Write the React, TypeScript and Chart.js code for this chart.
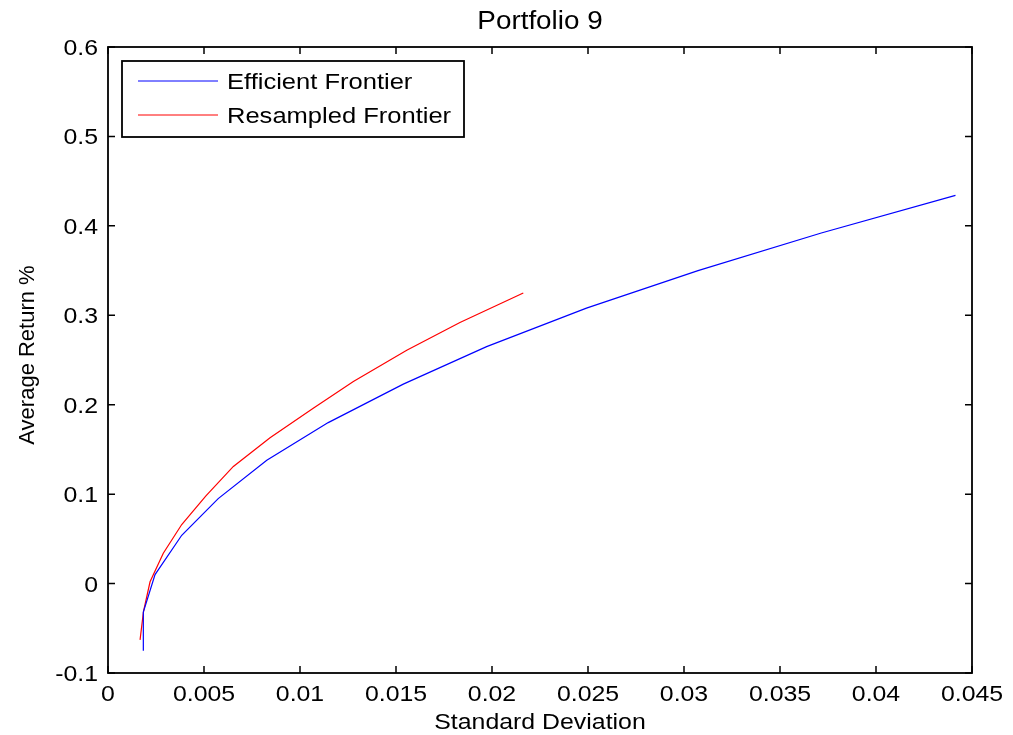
import React, { useEffect, useRef } from "react";
import { Chart, registerables } from "chart.js";

Chart.register(...registerables);

const efficientStd = [0.00184, 0.00184, 0.00245, 0.00384, 0.00574, 0.00827, 0.01147, 0.01538, 0.01972, 0.02492, 0.03073, 0.03715, 0.04414];
const efficientRet = [-0.075, -0.032, 0.010, 0.054, 0.095, 0.138, 0.180, 0.223, 0.265, 0.308, 0.350, 0.392, 0.434];
const resampledStd = [0.00167, 0.00185, 0.00219, 0.00288, 0.00384, 0.0051, 0.00653, 0.00844, 0.01069, 0.01278, 0.01556, 0.01833, 0.02163];
const resampledRet = [-0.063, -0.031, 0.002, 0.034, 0.066, 0.098, 0.131, 0.163, 0.196, 0.226, 0.261, 0.292, 0.325];

const seriesNames = ["Efficient Frontier", "Resampled Frontier"];
const seriesColors = ["#0000ff", "#ff0000"];
const titleText = "Portfolio 9";
const xTitle = "Standard Deviation";
const yTitle = "Average Return %";
const xTickValues = [0, 0.005, 0.01, 0.015, 0.02, 0.025, 0.03, 0.035, 0.04, 0.045];
const yTickValues = [-0.1, 0, 0.1, 0.2, 0.3, 0.4, 0.5, 0.6];

const FONT = '"Liberation Sans", Arial, sans-serif';
const SX = 1.13;

function drawText(
  ctx: CanvasRenderingContext2D,
  text: string,
  x: number,
  y: number,
  size: number,
  align: CanvasTextAlign,
  baseline: CanvasTextBaseline,
  sx = SX,
  rot = 0
) {
  ctx.save();
  ctx.translate(x, y);
  if (rot) ctx.rotate(rot);
  ctx.scale(sx, 1);
  ctx.font = `${size}px ${FONT}`;
  ctx.fillStyle = "#000";
  ctx.textAlign = align;
  ctx.textBaseline = baseline;
  ctx.fillText(text, 0, 0);
  ctx.restore();
}

const fmt = (v: number) => String(Number(v.toFixed(4)));

const matlabPlugin = {
  id: "matlabFrame",
  afterDraw(chart: any) {
    const ctx: CanvasRenderingContext2D = chart.ctx;
    const { left, right, top, bottom } = chart.chartArea;
    const xs = chart.scales.x;
    const ys = chart.scales.y;
    const tl = 7;

    ctx.save();
    ctx.strokeStyle = "#000";
    ctx.lineWidth = 1.8;
    ctx.strokeRect(left, top, right - left, bottom - top);

    ctx.lineWidth = 1.5;
    ctx.beginPath();
    for (const v of xTickValues) {
      const px = xs.getPixelForValue(v);
      ctx.moveTo(px, bottom);
      ctx.lineTo(px, bottom - tl);
      ctx.moveTo(px, top);
      ctx.lineTo(px, top + tl);
    }
    for (const v of yTickValues) {
      const py = ys.getPixelForValue(v);
      ctx.moveTo(left, py);
      ctx.lineTo(left + tl, py);
      ctx.moveTo(right, py);
      ctx.lineTo(right - tl, py);
    }
    ctx.stroke();
    ctx.restore();

    for (const v of xTickValues) {
      drawText(ctx, fmt(v), xs.getPixelForValue(v), bottom + 28, 22, "center", "alphabetic");
    }
    for (const v of yTickValues) {
      drawText(ctx, fmt(v), left - 10, ys.getPixelForValue(v) + 8, 22, "right", "alphabetic");
    }

    const cx = (left + right) / 2;
    drawText(ctx, titleText, cx, 29, 26, "center", "alphabetic", 1.07);
    drawText(ctx, xTitle, cx, 729, 22, "center", "alphabetic");
    drawText(ctx, yTitle, 34, (top + bottom) / 2 - 5, 22, "center", "alphabetic", 1, -Math.PI / 2);

    // legend
    const lx = 122, ly = 61, lw = 342, lh = 76;
    ctx.save();
    ctx.fillStyle = "#fff";
    ctx.fillRect(lx, ly, lw, lh);
    ctx.strokeStyle = "#000";
    ctx.lineWidth = 1.8;
    ctx.strokeRect(lx, ly, lw, lh);
    const rows = [81, 115];
    rows.forEach((ry, i) => {
      ctx.strokeStyle = seriesColors[i];
      ctx.lineWidth = 1;
      ctx.beginPath();
      ctx.moveTo(138, ry);
      ctx.lineTo(218, ry);
      ctx.stroke();
    });
    ctx.restore();
    rows.forEach((ry, i) => {
      drawText(ctx, seriesNames[i], 227, ry + 8, 22, "left", "alphabetic", 1.16);
    });
  },
};

export default function App() {
  const ref = useRef<HTMLCanvasElement | null>(null);
  useEffect(() => {
    if (!ref.current) return;
    const chart = new Chart(ref.current, {
      type: "scatter",
      data: {
        datasets: [
          {
            label: seriesNames[0],
            data: efficientStd.map((x, i) => ({ x, y: efficientRet[i] })),
            borderColor: seriesColors[0],
            backgroundColor: seriesColors[0],
            showLine: true,
            pointRadius: 0,
            borderWidth: 1.2,
            tension: 0,
          },
          {
            label: seriesNames[1],
            data: resampledStd.map((x, i) => ({ x, y: resampledRet[i] })),
            borderColor: seriesColors[1],
            backgroundColor: seriesColors[1],
            showLine: true,
            pointRadius: 0,
            borderWidth: 1.2,
            tension: 0,
          },
        ],
      },
      options: {
        responsive: false,
        animation: false,
        events: [],
        layout: { padding: { left: 0, top: 47, right: 41, bottom: 0 } },
        plugins: { legend: { display: false }, title: { display: false }, tooltip: { enabled: false } },
        scales: {
          x: {
            type: "linear",
            min: 0,
            max: 0.045,
            ticks: { display: false, stepSize: 0.005 },
            grid: { display: false },
            border: { display: false },
            afterFit: (s: any) => { s.height = 62; },
          },
          y: {
            type: "linear",
            min: -0.1,
            max: 0.6,
            ticks: { display: false, stepSize: 0.1 },
            grid: { display: false },
            border: { display: false },
            afterFit: (s: any) => { s.width = 108; },
          },
        },
      },
      plugins: [matlabPlugin],
    });
    return () => chart.destroy();
  }, []);
  return (
    <div style={{ position: "fixed", left: 0, top: 0, width: 1013, height: 735, background: "#fff" }}>
      <canvas ref={ref} width={1013} height={735} style={{ width: 1013, height: 735 }} />
    </div>
  );
}
